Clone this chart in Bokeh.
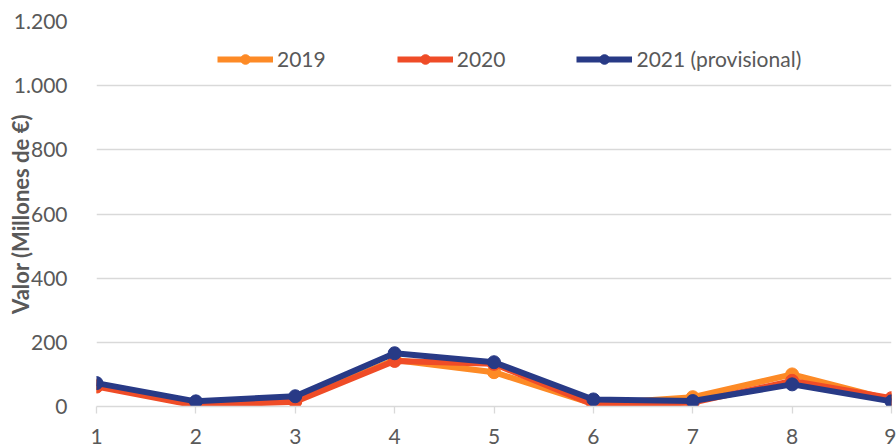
from bokeh.plotting import figure
from bokeh.models import ColumnDataSource, Legend, LegendItem, FixedTicker, CustomJSTickFormatter
from bokeh.embed import file_html
from bokeh.resources import INLINE

x = [1, 2, 3, 4, 5, 6, 7, 8, 9]
v2019 = [65, 5, 18, 145, 107, 8, 29, 100, 20]
v2020 = [62, 3, 15, 142, 133, 6, 12, 80, 26]
v2021 = [73, 16, 32, 166, 138, 22, 17, 69, 16]
series = [("2019", v2019, "#FD8A26"), ("2020", v2020, "#EF4C27"), ("2021 (provisional)", v2021, "#283A86")]
y_ticks = [0, 200, 400, 600, 800, 1000, 1200]
y_title = "Valor (Millones de €)"

FONT = "Lato"
TXT = "#595959"
GRID = "#d9d9d9"

p = figure(width=896, height=447, output_backend="svg", toolbar_location=None,
           x_range=(1, 9), y_range=(0, 1200),
           min_border_left=96, min_border_right=5, min_border_top=21, min_border_bottom=41)
p.outline_line_color = None
p.xgrid.grid_line_color = None
p.ygrid.grid_line_color = GRID
p.ygrid.grid_line_width = 1.3

p.yaxis.ticker = FixedTicker(ticks=y_ticks)
p.xaxis.ticker = FixedTicker(ticks=x)
p.yaxis.formatter = CustomJSTickFormatter(code="return tick.toString().replace(/\\B(?=(\\d{3})+(?!\\d))/g, '.');")
p.yaxis.axis_line_color = None
p.yaxis.major_tick_line_color = None
p.yaxis.minor_tick_line_color = None
p.yaxis.major_label_text_font = FONT
p.yaxis.major_label_text_font_size = "21px"
p.yaxis.major_label_text_color = TXT
p.yaxis.major_label_standoff = 23
p.yaxis.axis_label = y_title
p.yaxis.axis_label_text_font = FONT
p.yaxis.axis_label_text_font_size = "22px"
p.yaxis.axis_label_text_font_style = "bold"
p.yaxis.axis_label_text_color = TXT
p.yaxis.axis_label_standoff = -23

p.xaxis.axis_line_color = GRID
p.xaxis.axis_line_width = 1.3
p.xaxis.major_tick_line_color = GRID
p.xaxis.major_tick_line_width = 1.3
p.xaxis.major_tick_out = 7
p.xaxis.major_tick_in = 0
p.xaxis.minor_tick_line_color = None
p.xaxis.major_label_text_font = FONT
p.xaxis.major_label_text_font_size = "21px"
p.xaxis.major_label_text_color = TXT
p.xaxis.major_label_standoff = 15

items = []
for name, vals, col in series:
    src = ColumnDataSource(dict(x=x, y=vals))
    l = p.line("x", "y", source=src, line_color=col, line_width=6)
    c = p.scatter("x", "y", source=src, size=13, fill_color=col, line_color=col)
    items.append(LegendItem(label=name, renderers=[l, c]))

legend = Legend(items=items, orientation="horizontal", location=(121, 335),
                border_line_color=None, background_fill_alpha=0,
                label_text_font=FONT, label_text_font_size="21px", label_text_color=TXT,
                glyph_width=56, glyph_height=24, label_height=24, label_standoff=4,
                spacing=71, padding=0, margin=0)
p.add_layout(legend, "center")

open("out.html", "w").write(file_html(p, INLINE))
